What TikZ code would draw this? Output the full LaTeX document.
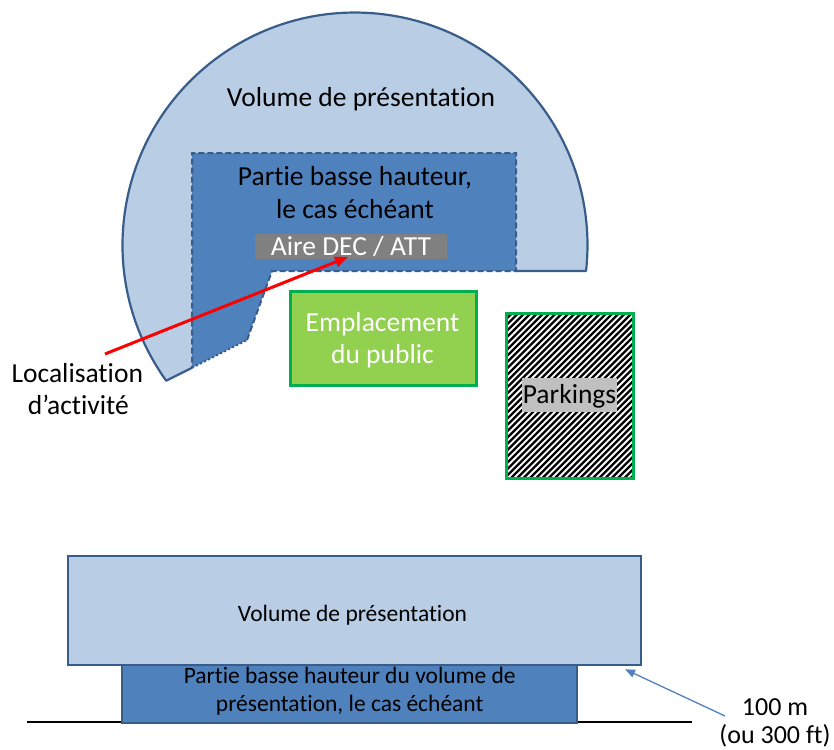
\documentclass[tikz,border=0pt]{standalone}
\usepackage{fontspec}
\setmainfont{Carlito}[Ligatures=NoCommon]
\usetikzlibrary{arrows.meta}
\definecolor{volfill}{HTML}{B9CDE5}
\definecolor{lowfill}{HTML}{4F81BD}
\definecolor{edgeblue}{HTML}{385D8A}
\definecolor{publicfill}{HTML}{92D050}
\definecolor{publicedge}{HTML}{00B050}
\definecolor{areagray}{HTML}{808080}
\definecolor{parkgray}{HTML}{C0C0C0}
\definecolor{linkred}{HTML}{FF0000}

\begin{document}
\begin{tikzpicture}[x=1pt,y=-1pt,
  big/.style={font=\fontsize{27.5}{33}\selectfont, inner sep=0pt, anchor=base},
  small/.style={font=\fontsize{23.5}{28}\selectfont, inner sep=0pt, anchor=base},
  note/.style={font=\fontsize{26}{30}\selectfont, inner sep=0pt, anchor=base},
  outline/.style={draw=edgeblue, line width=2.2pt, line join=round},
  lowedge/.style={draw=edgeblue, line width=2pt, dash pattern=on 6pt off 3pt},
  lowdots/.style={draw=edgeblue, line width=2pt, dash pattern=on 2pt off 2.5pt},
  tagbox/.style={inner sep=0pt, text height=17.7pt, text depth=0pt,
    font=\fontsize{27.5}{33}\selectfont},
  block/.style={draw=edgeblue, line width=2.3pt, inner sep=0pt},
]
\useasboundingbox (0,0) rectangle (834,749);

% ---- plan view: presentation volume (circular sector) ----
\fill[volfill] (166.2,380.7) arc[start angle=215.7, end angle=-6.42, radius=232.5pt]
  -- (272,271) -- (247,340) -- cycle;
\draw[outline] (192,367.8) -- (166.2,380.7)
  arc[start angle=215.7, end angle=-6.42, radius=232.5pt] -- (516,271);

% ---- low-height part ----
\fill[lowfill] (192,153) -- (516,153) -- (516,271) -- (272,271) -- (247,340)
  -- (192,367.8) -- cycle;
\draw[lowedge] (247,340) -- (272,271) -- (516,271) -- (516,153) -- (192,153)
  -- (192,367.8);
\draw[lowdots] (192,367.8) -- (247,340);

\node[big] (voltop) at (361,106.5) {Volume de présentation};
\node[big] (lowa) at (355,185) {Partie basse hauteur,};
\node[big] (lowb) at (355,218.3) {le cas échéant};
\node[tagbox, fill=areagray, text=white, minimum width=192, minimum height=25]
  (aire) at (351,246.5) {Aire DEC / ATT};

% ---- public area ----
\node[draw=publicedge, fill=publicfill, line width=3pt, minimum width=186,
  minimum height=94.5, inner sep=0pt] (public) at (383,338.7) {};
\node[big, text=white] (puba) at (382.5,331.5) {Emplacement};
\node[big, text=white] (pubb) at (382.5,363.3) {du public};

% ---- parking (hatched) ----
\node[minimum width=127, minimum height=165, inner sep=0pt, outer sep=0pt]
  (parking) at (569.5,395.5) {};
\begin{scope}
  \clip (parking.south west) rectangle (parking.north east);
  \foreach \c in {800,806.3,...,1130}
    \draw[black, line width=2.3pt] (\c-263,263) -- (\c-528,528);
\end{scope}
\draw[publicedge, line width=3pt] (parking.south west) rectangle (parking.north east);
\node[tagbox, fill=parkgray, minimum width=95, minimum height=33.5]
  (parklabel) at (569.5,395) {Parkings};

% ---- activity location callout ----
\node[big] (loca) at (77.3,382.7) {Localisation};
\node[big] (locb) at (78.3,414) {d’activité};
\coordinate (loctail) at (105,354);
\coordinate (lochead) at (348,257);
\draw[linkred, line width=3pt, -{Triangle[length=13pt, width=10pt]}]
  (loctail) -- (lochead);

% ---- elevation view ----
\draw[black, line width=1.5pt] (27,722) -- (692,722);
\node[block, fill=lowfill, minimum width=455, minimum height=57.7]
  (lowside) at (349.8,693.85) {};
\node[block, fill=volfill, minimum width=572.4, minimum height=109]
  (volside) at (354.5,610.5) {};
\node[small] (volsidetxt) at (352.5,621.7) {Volume de présentation};
\node[small] (lowsidea) at (349.7,683.3) {Partie basse hauteur du volume de};
\node[small] (lowsideb) at (349.7,711) {présentation, le cas échéant};

\node[note] (heighta) at (775,715) {100 m};
\node[note] (heightb) at (775,743) {(ou 300 ft)};
\coordinate (hgttail) at (725,716);
\coordinate (hgthead) at (625,669.3);
\draw[lowfill, line width=1.3pt, -{Triangle[length=10pt, width=8pt]}]
  (hgttail) -- (hgthead);
\end{tikzpicture}
\end{document}
